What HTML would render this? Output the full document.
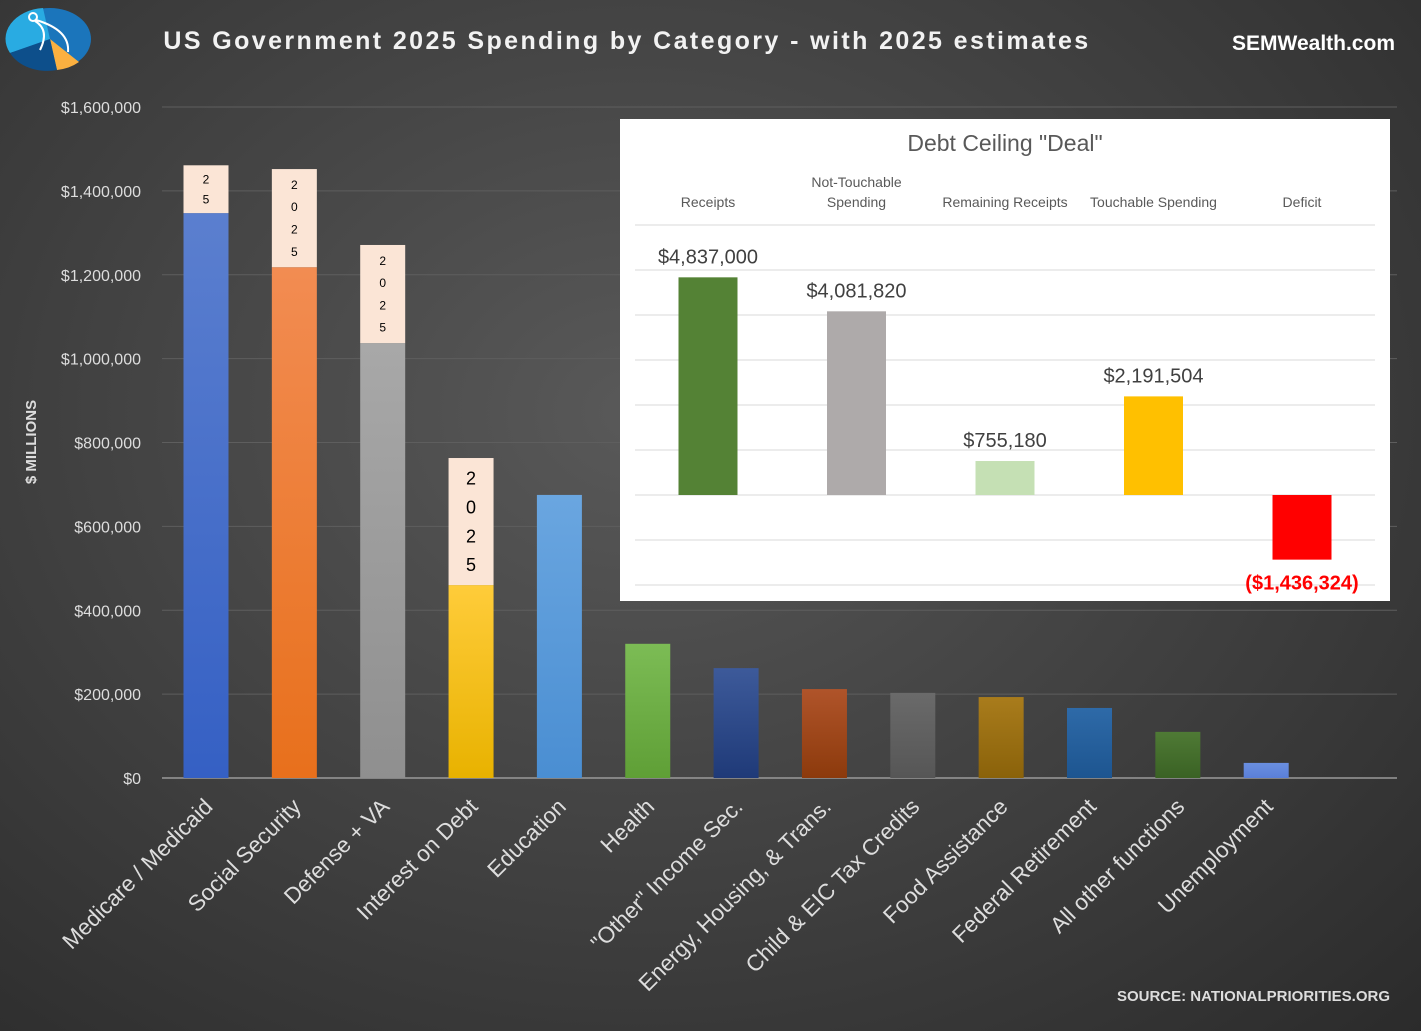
<!DOCTYPE html>
<html><head><meta charset="utf-8"><style>
html,body{margin:0;padding:0;}
body{width:1421px;height:1031px;overflow:hidden;background:radial-gradient(ellipse at 45% 40%,#595959 0%,#444 45%,#2b2b2b 100%);font-family:"Liberation Sans",sans-serif;}
svg{display:block}
</style></head><body>
<svg id="chart" width="1421" height="1031" xmlns="http://www.w3.org/2000/svg">
<g>
<ellipse cx="50" cy="39" rx="41" ry="31" fill="#1b75bb"/>
<path d="M50 39 L10 53 A41 31 0 0 1 43 8 Z" fill="#29abe2"/>
<path d="M50 39 L79 62 A41 31 0 0 1 57 70 Z" fill="#fbb040"/>
<path d="M50 39 L57 70 A41 31 0 0 1 10 53 Z" fill="#0d4f8b"/>
<circle cx="33" cy="17" r="4" fill="none" stroke="#fff" stroke-width="2"/>
<path d="M35 21 Q50 30 40 50 M36 20 Q70 30 68 52" fill="none" stroke="#fff" stroke-width="2"/>
</g>
<text x="627" y="49" text-anchor="middle" fill="#f2f2f2" font-size="25" font-weight="bold" letter-spacing="2.4">US Government 2025 Spending by Category - with 2025 estimates</text>
<text x="1395" y="50" text-anchor="end" fill="#fff" font-size="21" font-weight="bold">SEMWealth.com</text>
<text transform="translate(36,442) rotate(-90)" text-anchor="middle" fill="#ddd" font-size="15" font-weight="bold">$ MILLIONS</text>
<text x="1390" y="1001" text-anchor="end" fill="#ddd" font-size="15" font-weight="bold">SOURCE: NATIONALPRIORITIES.ORG</text>
<g id="main"></g>
<g>
<rect x="620" y="119" width="770" height="482" fill="#fff"/>
<text x="1005" y="151" text-anchor="middle" fill="#595959" font-size="23">Debt Ceiling "Deal"</text>
<g id="inset"></g>
</g>
</svg>
<script>
const categories=["Medicare / Medicaid","Social Security","Defense + VA","Interest on Debt","Education","Health","\"Other\" Income Sec.","Energy, Housing, & Trans.","Child & EIC Tax Credits","Food Assistance","Federal Retirement","All other functions","Unemployment"];
const baseValues=[1347000,1218000,1037000,460000,675000,320000,262000,212000,203000,193000,167000,110000,36000];
const estimateValues=[114000,234000,234000,303000,0,0,0,0,0,0,0,0,0];
const yTicks=[0,200000,400000,600000,800000,1000000,1200000,1400000,1600000];
const colors=[["#5b7fcf","#3560c4"],["#f28c52","#e8701c"],["#a8a8a8","#8f8f8f"],["#ffcc3a","#e8b200"],["#6aa6e0","#4a8ed2"],["#7cbc55","#5f9f36"],["#3d5a9a","#1f3a78"],["#b0542a","#8c3a0c"],["#6a6a6a","#565656"],["#a97c1c","#8a620a"],["#2e6aa8","#1d5590"],["#4f7a35","#3a6224"],["#6a8fe0","#5a7fd8"]];
const insetCats=["Receipts","Not-Touchable\nSpending","Remaining Receipts","Touchable Spending","Deficit"];
const insetValues=[4837000,4081820,755180,2191504,-1436324];
const insetLabels=["$4,837,000","$4,081,820","$755,180","$2,191,504","($1,436,324)"];
const insetColors=["#548235","#aeaaaa","#c5e0b4","#ffc000","#ff0000"];
const NS="http://www.w3.org/2000/svg";
function mk(p,t,a){const e=document.createElementNS(NS,t);for(const k in a)e.setAttribute(k,a[k]);p.appendChild(e);return e;}
const main=document.getElementById('main');
const y=v=>778-v/1600000*671;
const x=i=>206+i*88.35;
const defs=mk(main,'defs',{});
colors.forEach((c,i)=>{const g=mk(defs,'linearGradient',{id:'g'+i,x1:0,y1:0,x2:0,y2:1});mk(g,'stop',{offset:0,'stop-color':c[0]});mk(g,'stop',{offset:1,'stop-color':c[1]});});
yTicks.forEach(v=>{
 const l=mk(main,'line',{x1:162,x2:1397,y1:y(v),y2:y(v),stroke:v===0?'#9a9a9a':'#5e5e5e','stroke-width':v===0?1.5:1});
 
 
 const t=mk(main,'text',{x:141,y:y(v)+6,'text-anchor':'end',fill:'#ddd','font-size':16});
 t.textContent='$'+v.toLocaleString('en-US');
 
 
});
categories.forEach((c,i)=>{
 const b=mk(main,'rect',{x:x(i)-22.5,y:y(baseValues[i]),width:45,height:y(0)-y(baseValues[i]),fill:'url(#g'+i+')'});
 
 
 if(estimateValues[i]>0){
  const top=y(baseValues[i]+estimateValues[i]),h=y(baseValues[i])-top;
  const e=mk(main,'rect',{x:x(i)-22.5,y:top,width:45,height:h,fill:'#fbe5d6'});
  
  
  const chars=h>80?['2','0','2','5']:['2','5'];
  const big=i===3;const fs=big?18:12;const step=h/(chars.length+0.4);
  chars.forEach((ch,k)=>{const t=mk(main,'text',{x:x(i),y:top+step*(k+0.7)+fs*0.35,'text-anchor':'middle',fill:'#000','font-size':fs});t.textContent=ch;
   
   });
 }
 const t=mk(main,'text',{transform:`translate(${x(i)+8},${808}) rotate(-45)`,'text-anchor':'end',fill:'#ddd','font-size':22.5});
 t.textContent=c;
 
 
});
const ins=document.getElementById('inset');
const iy=v=>495-v/1000000*45;
const ix=i=>708+i*148.5;
[225,270,315,360,405,450,495,540,585].forEach(g=>{const l=mk(ins,'line',{x1:635,x2:1375,y1:g,y2:g,stroke:'#d9d9d9','stroke-width':1});
 
 });
insetCats.forEach((c,i)=>{
 const lines=c.split('\n');
 lines.forEach((ln,k)=>{const t=mk(ins,'text',{x:ix(i),y:207-(lines.length-1-k)*20,'text-anchor':'middle',fill:'#595959','font-size':14});t.textContent=ln;
  
  });
 const v=insetValues[i];const top=Math.min(iy(v),iy(0));
 const r=mk(ins,'rect',{x:ix(i)-29.5,y:top,width:59,height:Math.abs(iy(v)-iy(0)),fill:insetColors[i]});
 
 
 const t=mk(ins,'text',{x:ix(i),y:v>=0?iy(v)-14:iy(v)+30,'text-anchor':'middle',fill:v>=0?'#404040':'#ff0000','font-size':20,'font-weight':v>=0?'normal':'bold'});
 t.textContent=insetLabels[i];
 
 
});
</script>
</body></html>
